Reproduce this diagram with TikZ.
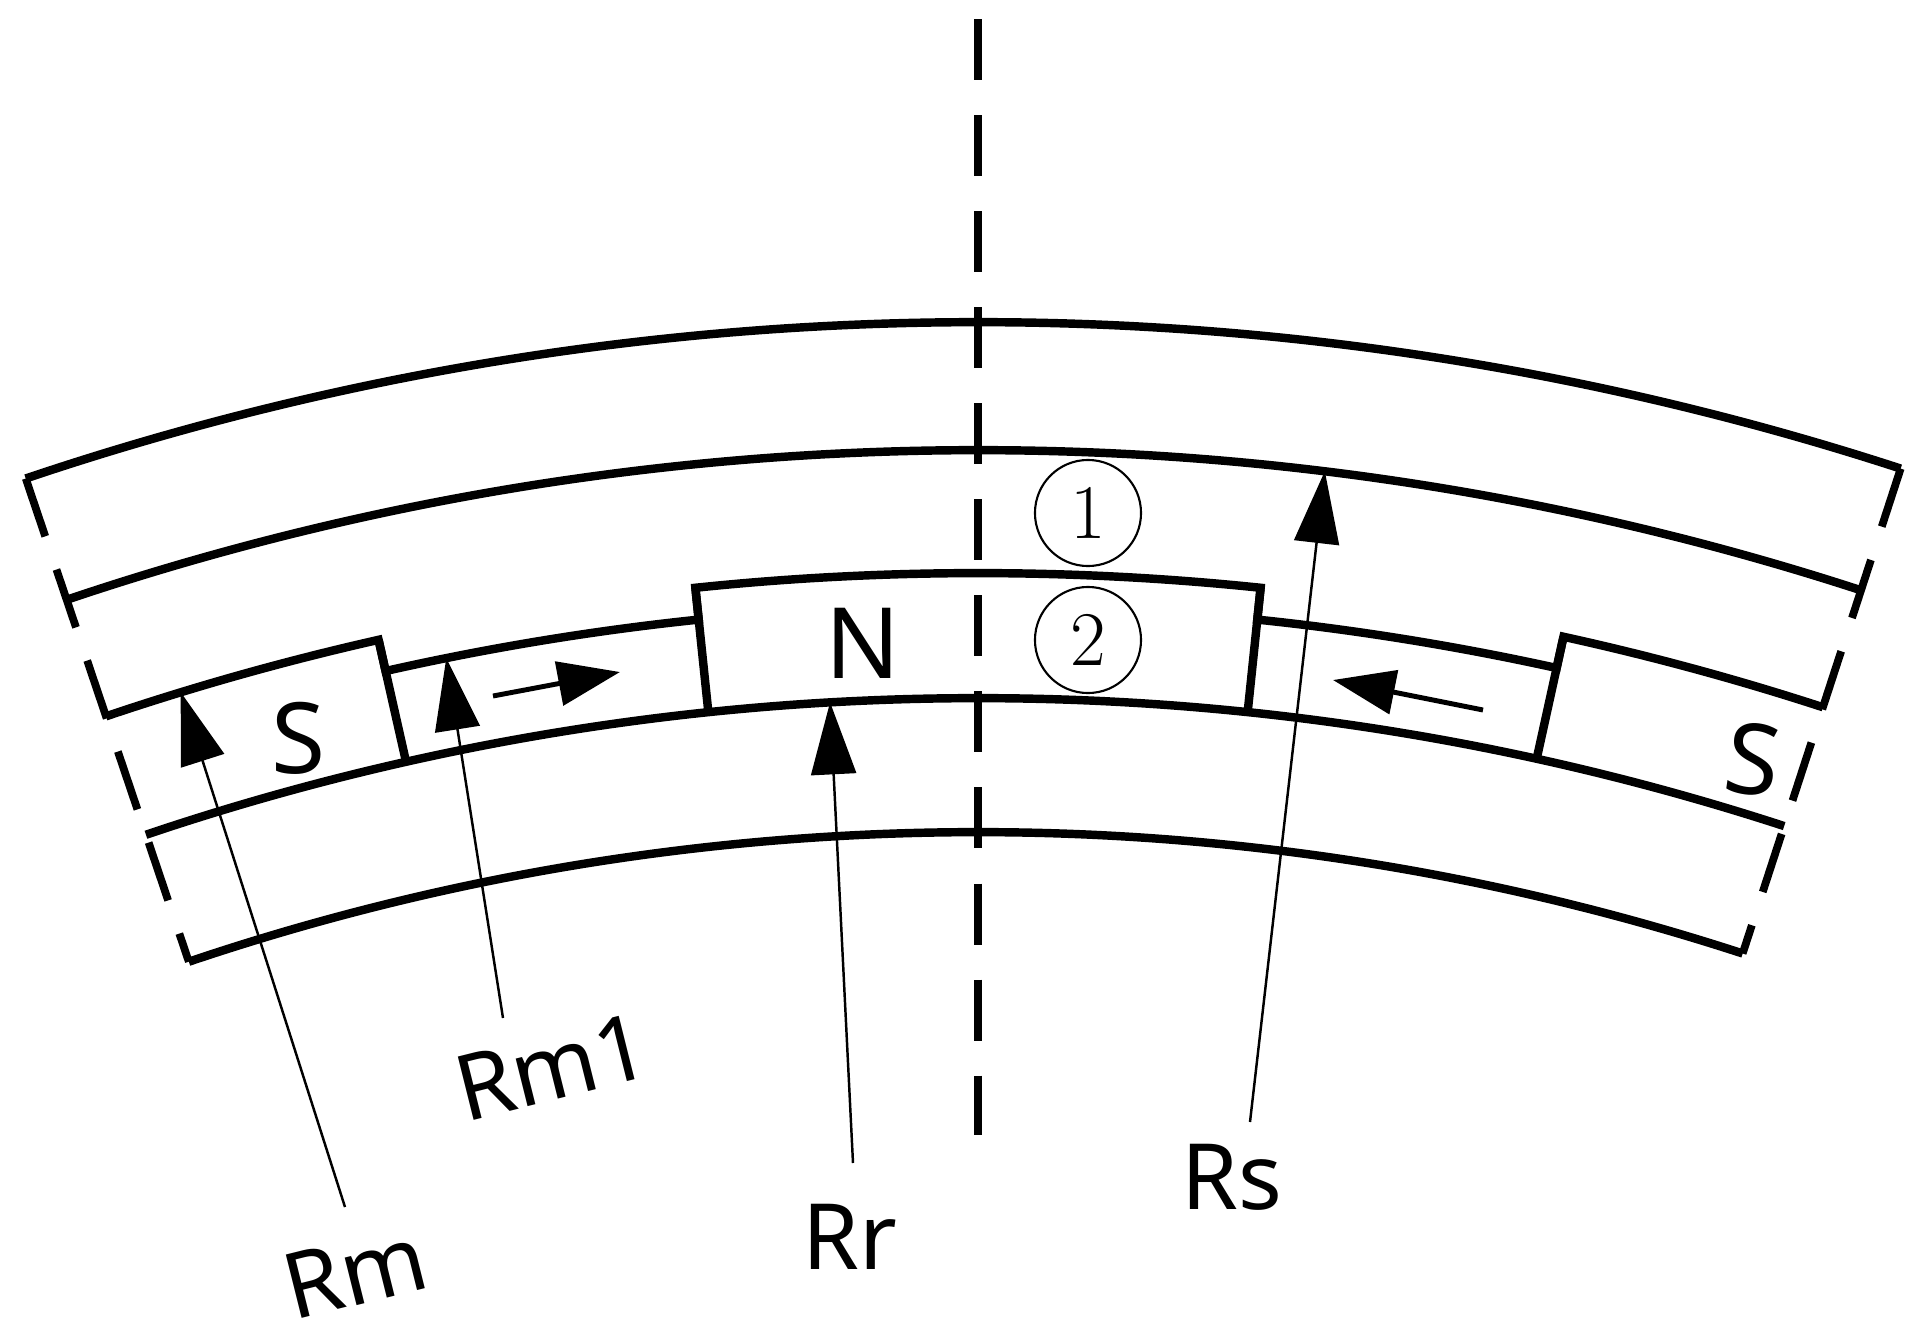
\documentclass[tikz,border=0pt]{standalone}
\usepackage{fontspec}
\setmainfont{Noto Sans}
\newfontfamily\serifnum{Latin Modern Roman}
\usetikzlibrary{arrows.meta}
\tikzset{
  part/.style={line width=2.4pt, line join=miter},
  sidedash/.style={line width=2.2pt, dash pattern=on 0.61cm off 0.35cm},
  radius line/.style={line width=0.7pt, -{Triangle[length=0.72cm,width=0.45cm]}},
  dir arrow/.style={line width=1.4pt, -{Triangle[length=0.62cm,width=0.44cm]}},
  lbl/.style={font=\fontsize{26}{30}\selectfont, inner sep=0pt},
  pole/.style={font=\fontsize{28}{32}\selectfont, inner sep=0pt},
  circnum/.style={draw, circle, line width=0.6pt, minimum size=1.06cm, inner sep=0pt, font=\serifnum\fontsize{22}{24}\selectfont}
}
\begin{document}
\begin{tikzpicture}[x=0.01cm,y=-0.01cm]
\useasboundingbox (0,0) rectangle (1917,1339);
\begin{scope}[shift={(978,3300)}]
  % stator
  \draw[part] (-108.65:2978) arc[start angle=-108.65,end angle=-71.95,radius=2978];
  \draw[part] (-108.65:2850) arc[start angle=-108.65,end angle=-71.95,radius=2850];
  % magnets / interpoles outline
  \draw[part] (-108.65:2727) arc[start angle=-108.65,end angle=-102.7,radius=2727]
     -- (-102.7:2695) arc[start angle=-102.7,end angle=-95.95,radius=2695]
     -- (-95.95:2727) arc[start angle=-95.95,end angle=-84.05,radius=2727]
     -- (-84.05:2695) arc[start angle=-84.05,end angle=-77.6,radius=2695]
     -- (-77.6:2727) arc[start angle=-77.6,end angle=-71.95,radius=2727];
  \foreach \a in {-102.7,-95.95,-84.05,-77.6}
    \draw[part] (\a:2727) -- (\a:2602);
  % rotor core
  \draw[part] (-108.65:2602) arc[start angle=-108.65,end angle=-71.95,radius=2602];
  \draw[part] (-108.65:2468) arc[start angle=-108.65,end angle=-71.95,radius=2468];
  % dashed sides
  \draw[sidedash] (-108.65:2978) -- (-108.65:2468);
  \draw[sidedash] (-71.95:2978) -- (-71.95:2468);
  % arrow tips
  \coordinate (tRm) at (-107.0:2727);
  \coordinate (tRmone) at (-101.38:2695);
  \coordinate (tRr) at (-93.26:2602);
  \coordinate (tRs) at (-83.01:2850);
\end{scope}
% centre line
\coordinate (cTop) at (978,19);
\coordinate (cBot) at (978,1135);
\draw[sidedash] (cTop) -- (cBot);
% radius arrows
\coordinate (fRm) at (345,1207);
\coordinate (fRmone) at (503,1018);
\coordinate (fRr) at (853,1163);
\coordinate (fRs) at (1250,1122);
\draw[radius line] (fRm) -- (tRm);
\draw[radius line] (fRmone) -- (tRmone);
\draw[radius line] (fRr) -- (tRr);
\draw[radius line] (fRs) -- (tRs);
\node[lbl, rotate=14] (lRm) at (355,1272) {Rm};
\node[lbl, rotate=14] (lRmone) at (552,1067) {Rm1};
\node[lbl] (lRr) at (850,1237) {Rr};
\node[lbl] (lRs) at (1232,1177) {Rs};
% magnetisation arrows
\coordinate (aL1) at (493,696);
\coordinate (aL2) at (620,672);
\coordinate (aR1) at (1483,710);
\coordinate (aR2) at (1333,680);
\draw[dir arrow] (aL1) -- (aL2);
\draw[dir arrow] (aR1) -- (aR2);
% pole labels
\node[pole] (pN) at (863,643) {N};
\node[pole] (pS1) at (299,738) {S};
\node[pole, rotate=-8] (pS2) at (1753,759) {S};
% circled numbers
\node[circnum] (c1) at (1088,513) {1};
\node[circnum] (c2) at (1088,640) {2};
\end{tikzpicture}
\end{document}
